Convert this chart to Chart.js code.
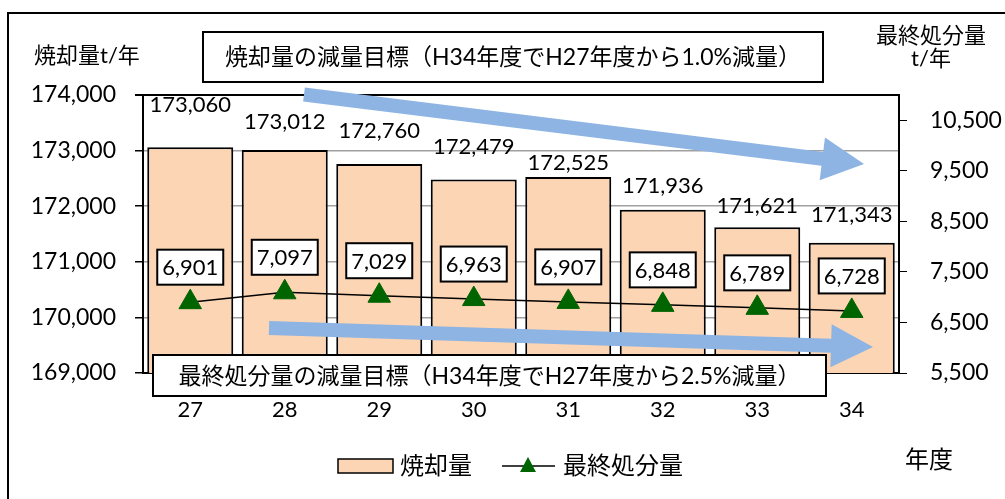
<!DOCTYPE html>
<html><head><meta charset="utf-8">
<script src="https://cdn.jsdelivr.net/npm/chart.js@4.4.1/dist/chart.umd.min.js"></script>
<style>html,body{margin:0;padding:0;background:#fff}#wrap{position:relative;width:1005px;height:499px}</style>
</head><body><div id="wrap"><canvas id="c"></canvas></div>
<script>
// ---- data ----
const categories = ['27','28','29','30','31','32','33','34'];
const incineration = [173060,173012,172760,172479,172525,171936,171621,171343];
const landfill = [6901,7097,7029,6963,6907,6848,6789,6728];
const leftTicks = [169000,170000,171000,172000,173000,174000];
const rightTicks = [5500,6500,7500,8500,9500,10500];
const seriesNames = ['焼却量','最終処分量'];
const targetTexts = ['焼却量の減量目標（H34年度でH27年度から1.0%減量）','最終処分量の減量目標（H34年度でH27年度から2.5%減量）'];
const leftTitle = '焼却量t/年';
const rightTitle = ['最終処分量','t/年'];
const xTitle = '年度';

// ---- styles / layout ----
const FONT = "Lato, 'Noto Sans CJK JP', sans-serif";
const PEACH = '#FCD5B5';
const GREEN = '#006400';
const ARROW = '#8DB4E2';
const barLabelLift = [42,28,33,33,14,24,21,28];
const arrows = [
  {x1:304,y1:94.5,x2:864,y2:164},
  {x1:269,y1:328,x2:873,y2:347}
];
const textBoxes = [
  {x:203,y:32,w:620,h:50},
  {x:153,y:355,w:673,h:41}
];

Chart.defaults.font.family = FONT;
Chart.defaults.color = '#000';

function fmt(v){ return Number(v).toLocaleString('en-US'); }

function drawArrow(ctx,a){
  const dx=a.x2-a.x1, dy=a.y2-a.y1, L=Math.hypot(dx,dy);
  const ux=dx/L, uy=dy/L, px=-uy, py=ux;
  const sw=7, hw=21.5, hl=42;
  const bx=a.x2-ux*hl, by=a.y2-uy*hl;
  ctx.beginPath();
  ctx.moveTo(a.x1+px*sw,a.y1+py*sw);
  ctx.lineTo(bx+px*sw,by+py*sw);
  ctx.lineTo(bx+px*hw,by+py*hw);
  ctx.lineTo(a.x2,a.y2);
  ctx.lineTo(bx-px*hw,by-py*hw);
  ctx.lineTo(bx-px*sw,by-py*sw);
  ctx.lineTo(a.x1-px*sw,a.y1-py*sw);
  ctx.closePath();
  ctx.fillStyle=ARROW; ctx.fill();
}

const decor = {
  id:'decor',
  beforeDraw(chart){
    const ctx=chart.ctx; ctx.save();
    ctx.fillStyle='#fff'; ctx.fillRect(0,0,chart.width,chart.height);
    ctx.strokeStyle='#000'; ctx.lineWidth=2;
    ctx.strokeRect(8,13,1100,600);
    ctx.restore();
  },
  afterDraw(chart){
    const ctx=chart.ctx; ctx.save();
    // bar value labels
    const bm=chart.getDatasetMeta(0);
    ctx.font='22px '+FONT; ctx.fillStyle='#000'; ctx.textAlign='center'; ctx.textBaseline='middle';
    bm.data.forEach((el,i)=>{ ctx.fillText(fmt(incineration[i]), el.x, el.y-barLabelLift[i]); });
    // arrows
    arrows.forEach(a=>drawArrow(ctx,a));
    // line value labels in boxes
    const lm=chart.getDatasetMeta(1);
    lm.data.forEach((el,i)=>{
      const cx=el.x, cy=el.y-35;
      ctx.fillStyle='#fff'; ctx.fillRect(cx-33,cy-17.5,66,35);
      ctx.strokeStyle='#000'; ctx.lineWidth=2; ctx.strokeRect(cx-33,cy-17.5,66,35);
      ctx.fillStyle='#000'; ctx.font='22px '+FONT; ctx.fillText(fmt(landfill[i]), cx, cy+1);
    });
    // target boxes
    textBoxes.forEach((b,i)=>{
      ctx.fillStyle='#fff'; ctx.fillRect(b.x,b.y,b.w,b.h);
      ctx.strokeStyle='#000'; ctx.lineWidth=2; ctx.strokeRect(b.x,b.y,b.w,b.h);
      ctx.fillStyle='#000'; ctx.font='23px '+FONT; ctx.textAlign='center';
      ctx.fillText(targetTexts[i], b.x+b.w/2, b.y+b.h/2+1);
    });
    // axis titles
    ctx.font='22px '+FONT; ctx.textAlign='left';
    ctx.fillText(leftTitle, 34, 56);
    ctx.textAlign='center';
    ctx.fillText(rightTitle[0], 931, 36);
    ctx.fillText(rightTitle[1], 931, 59);
    ctx.font='24px '+FONT; ctx.textAlign='left';
    ctx.fillText(xTitle, 905, 460);
    // legend
    ctx.fillStyle=PEACH; ctx.fillRect(338,459,55,14);
    ctx.strokeStyle='#000'; ctx.lineWidth=1.5; ctx.strokeRect(338,459,55,14);
    ctx.fillStyle='#000'; ctx.font='24px '+FONT; ctx.textAlign='left';
    ctx.fillText(seriesNames[0], 400, 466);
    ctx.beginPath(); ctx.moveTo(502,466); ctx.lineTo(555,466); ctx.lineWidth=1.5; ctx.stroke();
    ctx.beginPath(); ctx.moveTo(528,457); ctx.lineTo(536,472); ctx.lineTo(520,472); ctx.closePath();
    ctx.fillStyle=GREEN; ctx.fill();
    ctx.fillStyle='#000'; ctx.fillText(seriesNames[1], 563, 466);
    ctx.restore();
  }
};

new Chart(document.getElementById('c'), {
  data:{
    labels:categories,
    datasets:[
      {type:'bar', label:seriesNames[0], data:incineration, yAxisID:'y', order:2,
       backgroundColor:PEACH, borderColor:'#000', borderWidth:2, barPercentage:0.91, categoryPercentage:1},
      {type:'line', label:seriesNames[1], data:landfill, yAxisID:'y1', order:1,
       borderColor:'#000', borderWidth:1.5, tension:0, pointStyle:'triangle', pointRadius:13,
       pointBackgroundColor:GREEN, pointBorderColor:GREEN, pointBorderWidth:1}
    ]
  },
  options:{
    responsive:true, maintainAspectRatio:false, animation:false,
    layout:{padding:{top:95,left:0,right:0,bottom:0}},
    plugins:{legend:{display:false}, tooltip:{enabled:false}},
    scales:{
      x:{type:'category', offset:true,
         grid:{display:false, drawTicks:false},
         border:{display:true, color:'#000', width:2},
         ticks:{padding:24, color:'#000', font:{size:22}},
         afterFit(s){ s.height=126; }},
      y:{position:'left', min:169000, max:174000,
         afterBuildTicks(s){ s.ticks=leftTicks.map(v=>({value:v})); },
         ticks:{padding:19, color:'#000', font:{size:23}, callback:v=>fmt(v)},
         grid:{color:c=>(c.tick && c.tick.value===174000)?'#000':'#a0a0a0',
               lineWidth:c=>(c.tick && c.tick.value===174000)?2:1.5,
               tickColor:'#000', tickLength:8},
         border:{display:true, color:'#000', width:2},
         afterFit(s){ s.width=143; }},
      y1:{position:'right', min:5500, max:11000,
         afterBuildTicks(s){ s.ticks=rightTicks.map(v=>({value:v})); },
         ticks:{padding:23, color:'#000', font:{size:23}, callback:v=>fmt(v)},
         grid:{drawOnChartArea:false, tickColor:'#000', tickLength:8},
         border:{display:true, color:'#000', width:2},
         afterFit(s){ s.width=106; }}
    }
  },
  plugins:[decor]
});
</script></body></html>
